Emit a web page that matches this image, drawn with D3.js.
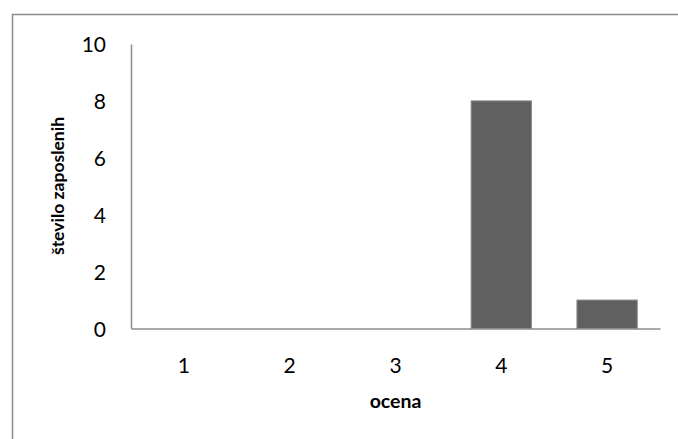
<!DOCTYPE html>
<html>
<head>
<meta charset="utf-8">
<script src="https://cdn.jsdelivr.net/npm/d3@7"></script>
<style>
  html, body { margin: 0; padding: 0; background: #fff; }
  svg { display: block; }
</style>
</head>
<body>
<script>
// Ocene zaposlenih: število zaposlenih po oceni
const categories = ["1", "2", "3", "4", "5"];
const counts = [0, 0, 0, 8, 1];
const yTicks = [0, 2, 4, 6, 8, 10];

const W = 678, H = 439;
const margin = { left: 131, right: 18, top: 44, bottom: 110.5 };
const font = "Lato, 'Open Sans', sans-serif";

const svg = d3.select("body").append("svg")
  .attr("width", W).attr("height", H);

// outer frame
svg.append("rect")
  .attr("x", 12.5).attr("y", 14.5)
  .attr("width", 670).attr("height", 440)
  .attr("fill", "none").attr("stroke", "#8c8c8c").attr("stroke-width", 1.5);

const x = d3.scaleBand()
  .domain(categories)
  .range([margin.left, W - margin.right])
  .paddingInner(0.43).paddingOuter(0.215);

const y = d3.scaleLinear()
  .domain([0, 10])
  .range([H - margin.bottom, margin.top]);

// bars
svg.append("g").selectAll("rect")
  .data(categories.map((c, i) => ({ c, v: counts[i] })).filter(d => d.v > 0))
  .join("rect")
  .attr("x", d => x(d.c))
  .attr("y", d => y(d.v))
  .attr("width", x.bandwidth())
  .attr("height", d => y(0) - y(d.v))
  .attr("fill", "#606060")
  .attr("stroke", "#8a8a8a")
  .attr("stroke-width", 1);

// y axis
const yAxis = svg.append("g")
  .attr("transform", `translate(${margin.left},0)`)
  .call(d3.axisLeft(y).tickValues(yTicks).tickSize(0).tickPadding(25));
yAxis.select(".domain").attr("stroke", "#8c8c8c").attr("stroke-width", 1.5);
yAxis.selectAll("text")
  .attr("dy", "0.36em")
  .attr("font-family", font).attr("font-size", 21).attr("fill", "#000");

// x axis
const xAxis = svg.append("g")
  .attr("transform", `translate(0,${y(0)})`)
  .call(d3.axisBottom(x).tickSize(0));
xAxis.select(".domain").attr("stroke", "#8c8c8c").attr("stroke-width", 1.5);
xAxis.selectAll("text")
  .attr("dy", null).attr("y", 44.5)
  .attr("font-family", font).attr("font-size", 21).attr("fill", "#000");

// axis titles
svg.append("text")
  .attr("x", (margin.left + W - margin.right) / 2)
  .attr("y", 408)
  .attr("text-anchor", "middle")
  .attr("font-family", font).attr("font-weight", "bold").attr("font-size", 19.5)
  .text("ocena");

svg.append("text")
  .attr("transform", `translate(64,186) rotate(-90)`)
  .attr("text-anchor", "middle")
  .attr("font-family", font).attr("font-weight", "bold").attr("font-size", 17.5)
  .text("število zaposlenih");
</script>
</body>
</html>
